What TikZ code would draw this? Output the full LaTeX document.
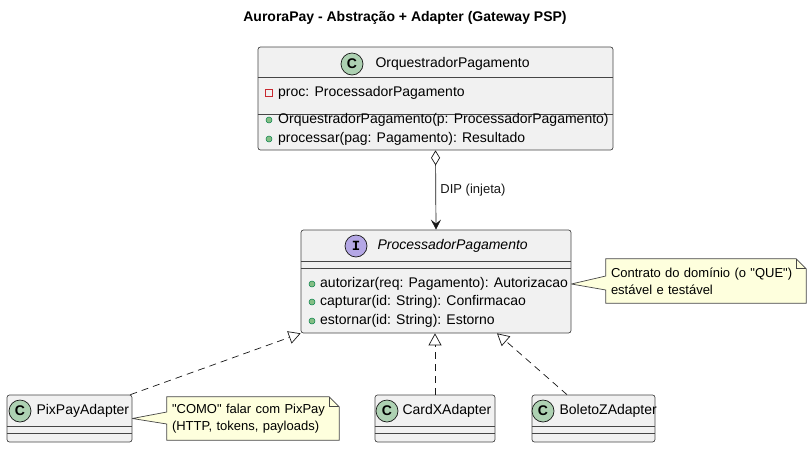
\documentclass[tikz,border=0pt]{standalone}
\usepackage{fontspec}
\setmainfont{Liberation Sans}[Ligatures=TeXOff]
\setmonofont{Liberation Mono}
\usetikzlibrary{arrows.meta,positioning,backgrounds}

\definecolor{boxfill}{HTML}{F1F1F1}
\definecolor{umlline}{HTML}{181818}
\definecolor{classbadge}{HTML}{ADD1B2}
\definecolor{ifacebadge}{HTML}{B4A7E5}
\definecolor{notefill}{HTML}{FEFFDD}
\definecolor{pubfill}{HTML}{84BE84}
\definecolor{publine}{HTML}{038048}
\definecolor{privline}{HTML}{C82930}
\newcommand{\qmark}{\char34\relax}

\begin{document}
\begin{tikzpicture}[x=1pt, y=-1pt,
    classbox/.style={rectangle, draw=umlline!80, fill=boxfill, line width=0.7pt, rounded corners=2.5pt},
    badge/.style={circle, draw=umlline, line width=0.7pt, minimum size=22pt, inner sep=0pt, font=\fontsize{14}{14}\selectfont\bfseries},
    cname/.style={inner sep=0pt, font=\fontsize{14}{16}\selectfont},
    member/.style={anchor=west, inner sep=0pt, font=\fontsize{14}{16}\selectfont},
    pubdot/.style={circle, fill=pubfill, draw=publine, minimum size=6pt, inner sep=0pt, line width=0.5pt},
    privsq/.style={rectangle, draw=privline, minimum size=7pt, inner sep=0pt, line width=0.7pt},
    divider/.style={draw=umlline!80, line width=0.7pt},
    notebox/.style={inner xsep=5pt, inner ysep=0pt, align=left, font=\fontsize{13}{17}\selectfont},
    noteline/.style={draw=umlline!80, fill=notefill, line width=0.7pt},
    realize/.style={draw=umlline, line width=0.7pt, dash pattern=on 7pt off 5pt, -{Triangle[open, length=12pt, width=13pt]}}]

    % Canvas
    \begin{scope}[on background layer]
        \fill[white] (0,0) rectangle (811,448);
    \end{scope}
    \useasboundingbox (0,0) rectangle (811,448);

    % Title
    \node[font=\fontsize{14}{16}\selectfont\bfseries] (title) at (405,18) {AuroraPay - Abstração + Adapter (Gateway PSP)};

    % OrquestradorPagamento
    \node[classbox, minimum width=355pt, minimum height=103pt] (orq) at (435.5,98.5) {};
    \node[badge, fill=classbadge] (orqbadge) at (352,64) {C};
    \node[cname, right=12pt of orqbadge] (orqname) {OrquestradorPagamento};
    \draw[divider] ([yshift=-31pt]orq.north west) -- ([yshift=-31pt]orq.north east);
    \draw[divider] ([yshift=-68pt]orq.north west) -- ([yshift=-68pt]orq.north east);
    \node[privsq] (orqv1) at (269,93) {};
    \node[member] (orqm1) at (278,93) {proc: ProcessadorPagamento};
    \node[pubdot] (orqv2) at (269,120) {};
    \node[member] (orqm2) at (278,120) {OrquestradorPagamento(p: ProcessadorPagamento)};
    \node[pubdot] (orqv3) at (269,139) {};
    \node[member] (orqm3) at (278,139) {processar(pag: Pagamento): Resultado};

    % ProcessadorPagamento (interface)
    \node[classbox, minimum width=270pt, minimum height=103pt] (proc) at (436,281.5) {};
    \node[badge, fill=ifacebadge, font=\fontsize{14}{14}\selectfont\ttfamily\bfseries] (procbadge) at (356,246) {I};
    \node[cname, right=10pt of procbadge, font=\fontsize{14}{16}\selectfont\itshape] (procname) {ProcessadorPagamento};
    \draw[divider] ([yshift=-32pt]proc.north west) -- ([yshift=-32pt]proc.north east);
    \draw[divider] ([yshift=-39pt]proc.north west) -- ([yshift=-39pt]proc.north east);
    \node[pubdot] (procv1) at (312,284) {};
    \node[member] (procm1) at (320,284) {autorizar(req: Pagamento): Autorizacao};
    \node[pubdot] (procv2) at (312,302) {};
    \node[member] (procm2) at (320,302) {capturar(id: String): Confirmacao};
    \node[pubdot] (procv3) at (312,321) {};
    \node[member] (procm3) at (320,321) {estornar(id: String): Estorno};

    % Adapters
    \node[classbox, minimum width=125pt, minimum height=47pt] (pix) at (69.5,418.5) {};
    \node[badge, fill=classbadge] (pixbadge) at (20,411) {C};
    \node[cname, right=5pt of pixbadge] (pixname) {PixPayAdapter};

    \node[classbox, minimum width=120pt, minimum height=47pt] (card) at (435,418.5) {};
    \node[badge, fill=classbadge] (cardbadge) at (387,411) {C};
    \node[cname, right=4pt of cardbadge] (cardname) {CardXAdapter};

    \node[classbox, minimum width=123pt, minimum height=47pt] (bol) at (593.5,418.5) {};
    \node[badge, fill=classbadge] (bolbadge) at (543,411) {C};
    \node[cname, right=5pt of bolbadge] (bolname) {BoletoZAdapter};

    \foreach \n in {pix,card,bol} {
        \draw[divider] ([yshift=-32pt]\n.north west) -- ([yshift=-32pt]\n.north east);
        \draw[divider] ([yshift=-39pt]\n.north west) -- ([yshift=-39pt]\n.north east);
    }

    % Aggregation (DIP)
    \draw[umlline, line width=0.7pt, {Diamond[open, length=15pt, width=9pt]}-{Stealth[length=10pt, width=10pt, inset=4pt]}]
        (orq.south) -- node[right=1pt, font=\fontsize{13}{15}\selectfont] (dip) {DIP (injeta)} (proc.north);

    % Realizations
    \draw[realize] ([xshift=-2pt]pix.north east) -- (proc.south west);
    \draw[realize] (card.north) -- (card.north |- proc.south);
    \draw[realize] ([xshift=-26.5pt]bol.north) -- ([xshift=61pt]proc.south);

    % Notes
    \node[notebox, text width=190pt, minimum height=44pt] (note1) at (706,281) {Contrato do domínio (o \qmark QUE\qmark)\\estável e testável};
    \node[notebox, text width=162pt, minimum height=43pt] (note2) at (253,418.5) {\qmark COMO\qmark{} falar com PixPay\\(HTTP, tokens, payloads)};

    \begin{scope}[on background layer]
        \path[noteline] (note1.north west) -- ([xshift=-10pt]note1.north east) -- ([yshift=-10pt]note1.north east)
            -- (note1.south east) -- (note1.south west) -- ([yshift=-9pt]note1.west)
            -- ([yshift=-2.5pt]proc.east) -- ([yshift=5pt]note1.west) -- cycle;
        \path[noteline] (note2.north west) -- ([xshift=-10pt]note2.north east) -- ([yshift=-10pt]note2.north east)
            -- (note2.south east) -- (note2.south west) -- ([yshift=-5.5pt]note2.west)
            -- (pix.east) -- ([yshift=6.5pt]note2.west) -- cycle;
    \end{scope}
    \draw[noteline, fill=none] ([xshift=-10pt]note1.north east) |- ([yshift=-10pt]note1.north east);
    \draw[noteline, fill=none] ([xshift=-10pt]note2.north east) |- ([yshift=-10pt]note2.north east);

\end{tikzpicture}
\end{document}
